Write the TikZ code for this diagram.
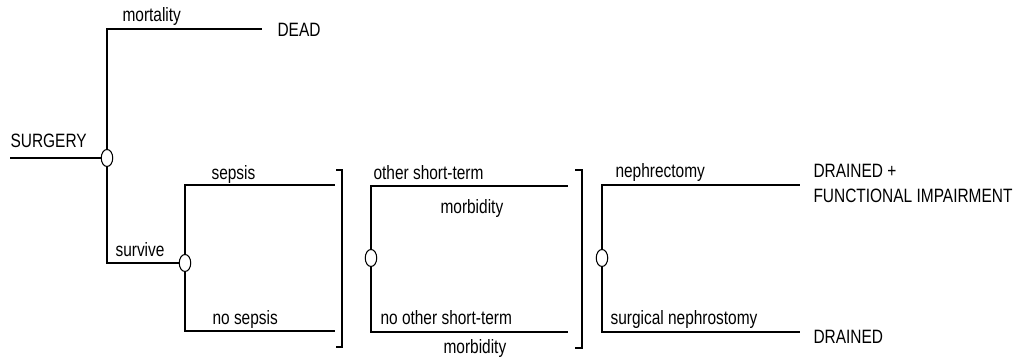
\documentclass[tikz,border=0pt]{standalone}
\usepackage{fontspec}
\setmainfont{Liberation Sans}[FakeStretch=0.8]
\usetikzlibrary{shapes.geometric}

\begin{document}
\begin{tikzpicture}[
    x=0.02cm, y=-0.02cm,
    line width=0.6pt,
    chance/.style={
        ellipse,
        draw=black,
        minimum width=0.23cm,
        minimum height=0.34cm,
        inner sep=0,
      },
    lbl/.style={anchor=base west, inner sep=0, font=\fontsize{11}{14}\selectfont},
    outc/.style={anchor=west, inner sep=0, align=left, font=\fontsize{11}{14.2}\selectfont},
    brk/.style={line width=0.6pt},
  ]
  \useasboundingbox (0,0) rectangle (1022,361);

  \node[chance] (c1) at (107,158) {};
  \node[chance] (c2) at (185,263) {};
  \node[chance] (c3) at (371,258) {};
  \node[chance] (c4) at (602,258) {};

  \coordinate (start) at (10,158);
  \coordinate (deadEnd) at (262,29);
  \coordinate (sepEnd) at (335,185);
  \coordinate (nosepEnd) at (335,331);
  \coordinate (morbEnd) at (568,186);
  \coordinate (nomorbEnd) at (568,332);
  \coordinate (nephEnd) at (800,185);
  \coordinate (nostEnd) at (800,332);

  \node[lbl] (surgery) at (10,148) {SURGERY};
  \node[outc] (dead) at (277,30) {DEAD};
  \node[outc] (drainedFI) at (813,183) {DRAINED +\\FUNCTIONAL IMPAIRMENT};
  \node[outc] (drained) at (813,337) {DRAINED};

  \draw (start) -- (c1);
  \draw (c1) |- (deadEnd);
  \draw (c1) |- (c2);
  \draw (c2) |- (sepEnd);
  \draw (c2) |- (nosepEnd);
  \draw (c3) |- (morbEnd);
  \draw (c3) |- (nomorbEnd);
  \draw (c4) |- (nephEnd);
  \draw (c4) |- (nostEnd);

  \node[lbl] (mort) at (122,22) {mortality};
  \node[lbl] (surv) at (115,257) {survive};
  \node[lbl] (sep) at (211,180) {sepsis};
  \node[lbl] (nosep) at (212,325) {no sepsis};
  \node[lbl] (morb) at (373,180) {other short-term};
  \node[lbl] (morb2) at (440,214) {morbidity};
  \node[lbl] (nomorb) at (380,325) {no other short-term};
  \node[lbl] (nomorb2) at (443,354) {morbidity};
  \node[lbl] (neph) at (615,178) {nephrectomy};
  \node[lbl] (nost) at (610,325) {surgical nephrostomy};

  % brackets
  \draw[brk] (336,170) -- (342,170) -- (342,347) -- (336,347);
  \draw[brk] (575,170) -- (582,170) -- (582,348) -- (575,348);
\end{tikzpicture}
\end{document}
